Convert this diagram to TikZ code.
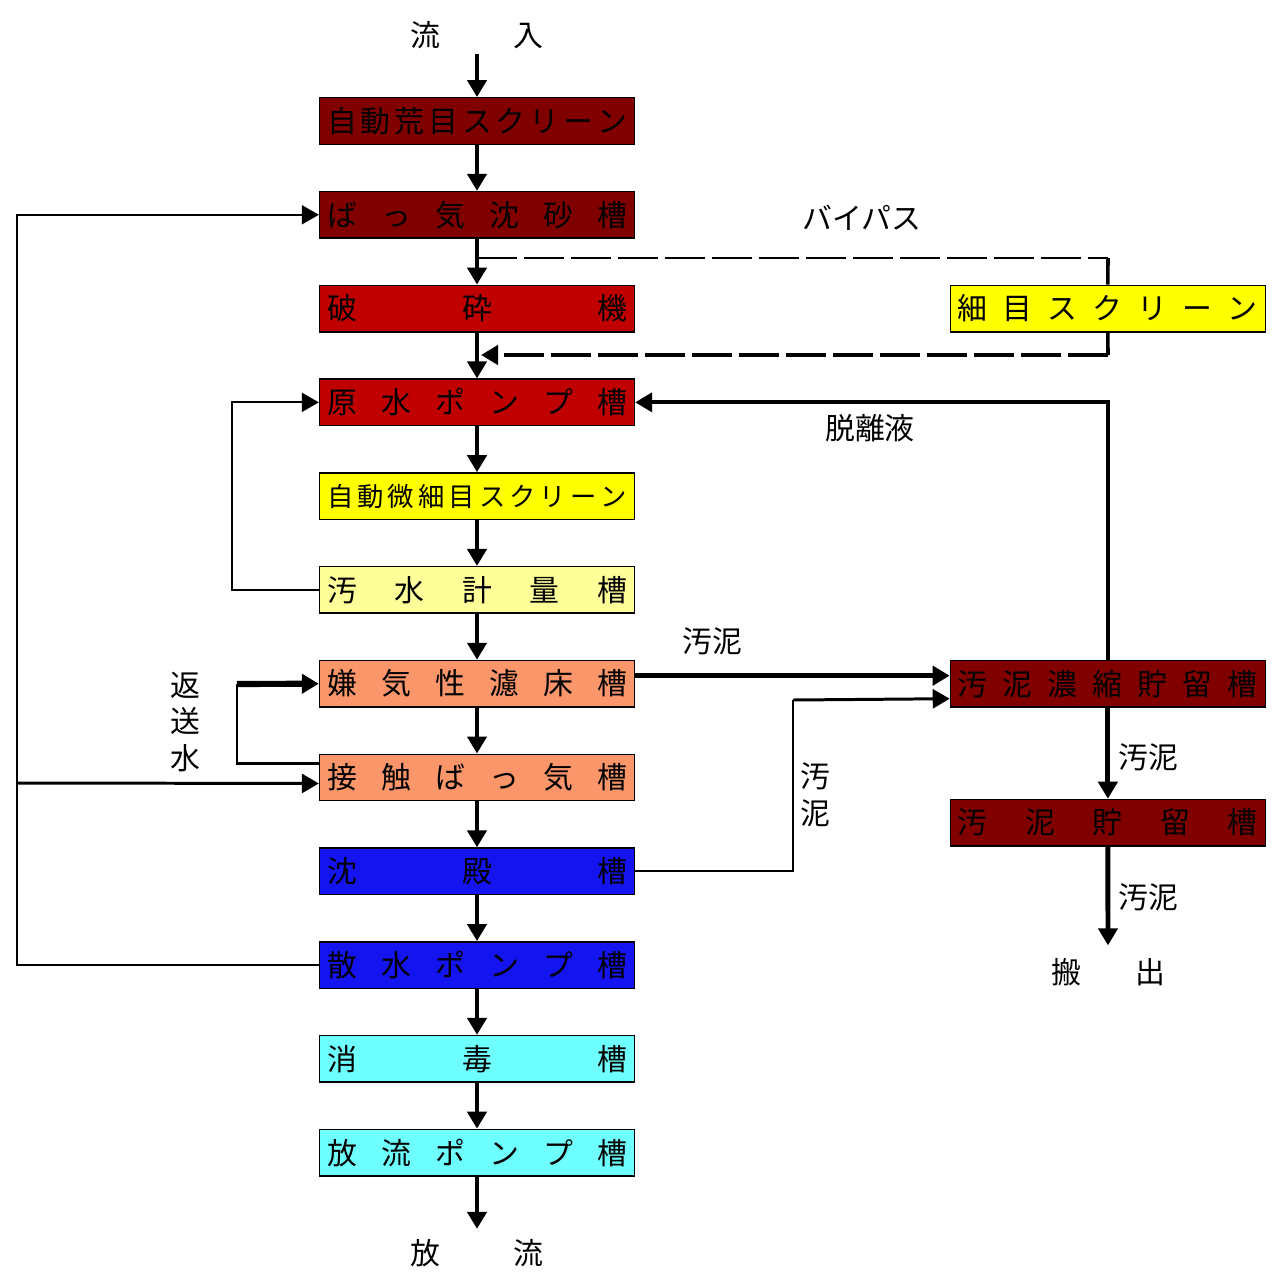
\documentclass[tikz,border=0pt]{standalone}
\usepackage{fontspec}
\setmainfont{Noto Sans CJK JP}
\usepackage{xcolor}
\usetikzlibrary{arrows.meta}
\definecolor{tankmaroon}{RGB}{128,0,0}
\definecolor{tankred}{RGB}{192,0,0}
\definecolor{tankyellow}{RGB}{255,255,0}
\definecolor{tankcream}{RGB}{255,255,153}
\definecolor{tanksalmon}{RGB}{250,150,105}
\definecolor{tankblue}{RGB}{20,20,240}
\definecolor{tankcyan}{RGB}{110,255,255}
\newcommand{\spread}[2][6cm]{\makebox[#1][s]{\spaceskip=0pt plus 1fil #2}}

\begin{document}
\begin{tikzpicture}[x=0.02cm,y=-0.02cm,>={Triangle[width=0.38cm,length=0.34cm]},node distance=1.876cm,
  tank/.style={draw,line width=0.8pt,minimum width=6.3cm,minimum height=0.93cm,inner sep=0pt,font=\fontsize{17}{17}\selectfont},
  flow/.style={->,line width=2.8pt},
  pipe/.style={line width=1.2pt},
  lbl/.style={font=\fontsize{17}{21}\selectfont,inner sep=0pt,align=center}]
  \useasboundingbox (0,0) rectangle (1274,1275);

  % main line
  \node[tank,fill=tankmaroon] (coarse) at (477,121) {\spread{自 動 荒 目 ス ク リ ー ン}};
  \node[tank,fill=tankmaroon] (grit)   [below of=coarse] {\spread{ば っ 気 沈 砂 槽}};
  \node[tank,fill=tankred]    (crush)  [below of=grit]   {\spread{破 砕 機}};
  \node[tank,fill=tankred]    (raw)    [below of=crush]  {\spread{原 水 ポ ン プ 槽}};
  \node[tank,fill=tankyellow,font=\fontsize{15}{15}\selectfont] (micro) [below of=raw] {\spread{自 動 微 細 目 ス ク リ ー ン}};
  \node[tank,fill=tankcream]  (meter)  [below of=micro]  {\spread{汚 水 計 量 槽}};
  \node[tank,fill=tanksalmon] (anaer)  [below of=meter]  {\spread{嫌 気 性 濾 床 槽}};
  \node[tank,fill=tanksalmon] (aer)    [below of=anaer]  {\spread{接 触 ば っ 気 槽}};
  \node[tank,fill=tankblue]   (settle) [below of=aer]    {\spread{沈 殿 槽}};
  \node[tank,fill=tankblue]   (spray)  [below of=settle] {\spread{散 水 ポ ン プ 槽}};
  \node[tank,fill=tankcyan]   (disinf) [below of=spray]  {\spread{消 毒 槽}};
  \node[tank,fill=tankcyan]   (dis)    [below of=disinf] {\spread{放 流 ポ ン プ 槽}};

  % sludge side
  \node[tank,fill=tankyellow] (fine)   [right of=crush,node distance=12.62cm] {\spread{細 目 ス ク リ ー ン}};
  \node[tank,fill=tankmaroon] (thick)  [right of=anaer,node distance=12.62cm] {\spread{汚 泥 濃 縮 貯 留 槽}};
  \node[tank,fill=tankmaroon] (store)  [below of=thick,node distance=2.78cm] {\spread{汚 泥 貯 留 槽}};

  \node[lbl] (in)   at (477,35)   {\spread[2.66cm]{流 入}};
  \node[lbl] (out)  at (477,1253) {\spread[2.66cm]{放 流}};
  \node[lbl] (haul) at (1108,972) {\spread[2.28cm]{搬 出}};

  \draw[flow,shorten <=0.1cm] (in) -- (coarse);
  \draw[flow] (coarse) -- (grit);
  \draw[flow] (grit) -- (crush);
  \draw[flow] (crush) -- (raw);
  \draw[flow] (raw) -- (micro);
  \draw[flow] (micro) -- (meter);
  \draw[flow] (meter) -- (anaer);
  \draw[flow] (anaer) -- (aer);
  \draw[flow] (aer) -- (settle);
  \draw[flow] (settle) -- (spray);
  \draw[flow] (spray) -- (disinf);
  \draw[flow] (disinf) -- (dis);
  \draw[flow,shorten >=0.2cm] (dis) -- (out);

  % bypass
  \coordinate (bp1) at (477,258);
  \coordinate (bp2) at (1108,258);
  \coordinate (bp3) at (1108,355);
  \coordinate (bp4) at (481,355);
  \draw[pipe,dash pattern=on 0.8cm off 0.14cm] (bp1) -- (bp2);
  \draw[line width=2pt] (bp2) -- (fine);
  \draw[line width=2pt] (fine) -- (bp3);
  \draw[->,line width=2.8pt,dash pattern=on 0.8cm off 0.14cm] (bp3) -- (bp4);
  \node[lbl] (bypass) at (862,218) {バイパス};

  % return liquor
  \draw[flow,line width=2.2pt] (thick) |- (raw.east);
  \node[lbl] (liquor) at (870,428) {脱離液};
  \draw[pipe,->] (meter.west) -- ++(-87,0) |- (raw.west);

  % return water
  \draw[pipe,->] (spray.west) -- ++(-302,0) |- (grit.west);
  \coordinate (feed) at (18,783);
  \draw[->,line width=1.7pt] (feed) -- ([yshift=-0.12cm]aer.west);
  \coordinate (rs) at (237,684);
  \draw[pipe] ([yshift=0.28cm]aer.west) -| (rs);
  \draw[->,line width=3.5pt] (rs) -- (anaer.west);
  \node[lbl] (retw) at (185,722) {返\\送\\水};

  % sludge
  \draw[flow] ([yshift=0.16cm]anaer.east) -- ([yshift=0.16cm]thick.west);
  \node[lbl] (sl1) at (712,641) {汚泥};
  \coordinate (sl) at (793,700);
  \draw[pipe] (settle.east) -| (sl);
  \draw[->,line width=1.7pt] (sl) -- ([yshift=-0.3cm]thick.west);
  \node[lbl] (sl2) at (815,795) {汚\\泥};
  \draw[flow] (thick) -- (store);
  \node[lbl] (sl3) at (1148,757) {汚泥};
  \draw[flow,shorten >=0.25cm] (store) -- (haul);
  \node[lbl] (sl4) at (1148,897) {汚泥};
\end{tikzpicture}
\end{document}
